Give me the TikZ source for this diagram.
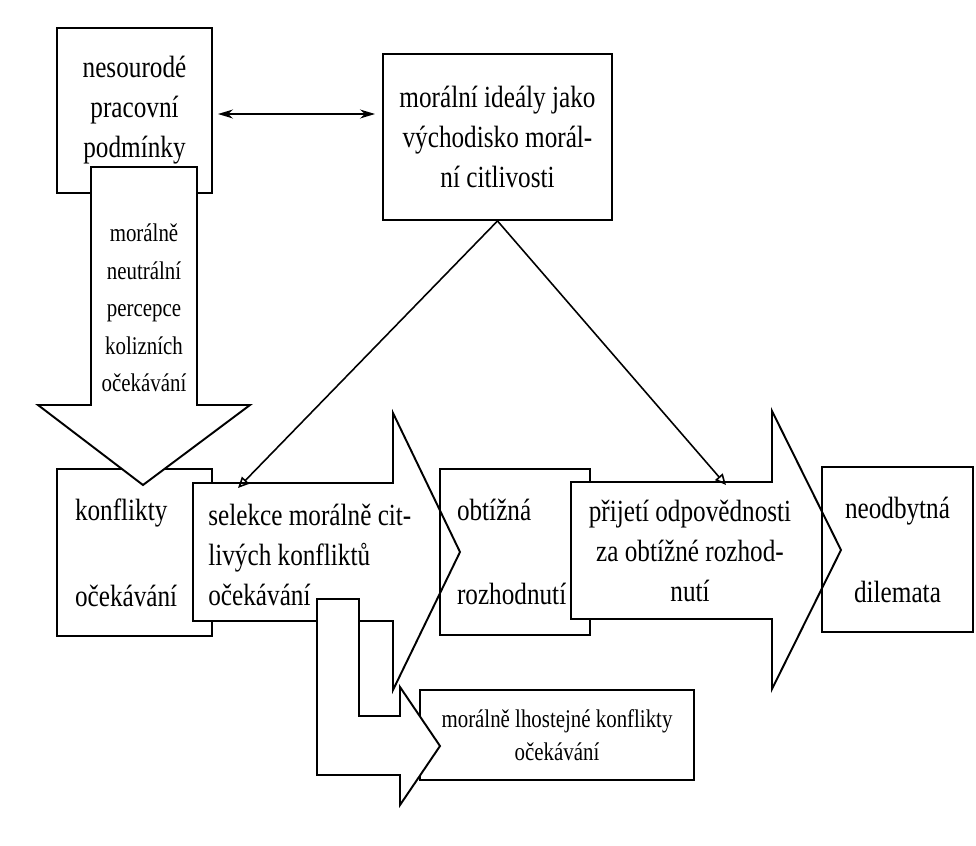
\documentclass[tikz,border=0pt]{standalone}
\usepackage{fontspec}
\setmainfont{Liberation Serif}[FakeStretch=0.82]
\usetikzlibrary{arrows.meta}
\begin{document}
\begin{tikzpicture}[x=0.02cm, y=-0.02cm,
  box/.style={draw, line width=1.1pt, inner sep=0pt},
  bigarrow/.style={draw, fill=white, line width=1.1pt},
  big/.style={font=\fontsize{17.5}{22.8}\selectfont},
  small/.style={font=\fontsize{14.5}{21.3}\selectfont},
  link/.style={line width=0.9pt, -{Triangle[open, length=0.22cm, width=0.2cm]}}]
\useasboundingbox (0,0) rectangle (976,845);
\node[box, big, align=center, minimum width=3.1cm, minimum height=3.3cm] (podminky) at (134.5,110.5) {nesourodé\\pracovní\\podmínky};
\node[box, big, align=center, minimum width=4.58cm, minimum height=3.32cm] (idealy) at (497.5,137) {morální ideály jako\\východisko morál-\\ní citlivosti};
\node[box, big, minimum height=3.34cm, inner xsep=0.36cm, text width=2.38cm, align=left] (konflikty) at (134.5,552.5) {konflikty\\[26pt]očekávání};
\draw[bigarrow] (91,167) -- (197,167) -- (197,405) -- (250,405) -- (143,485) -- (38,405) -- (91,405) -- cycle;
\node[small, align=center, inner sep=0pt] (percepce) at (144,308) {morálně\\neutrální\\percepce\\kolizních\\očekávání};
\draw[bigarrow] (193,483) -- (393,483) -- (393,413) -- (460,552) -- (393,690) -- (393,621) -- (193,621) -- cycle;
\node[big, align=left, anchor=west, inner sep=0pt] (selekce) at (208,555) {selekce morálně cit-\\livých konfliktů\\očekávání};
\node[box, big, minimum height=3.32cm, inner xsep=0.34cm, text width=2.32cm, align=left] (obtizna) at (515,552) {obtížná\\[25pt]rozhodnutí};
\draw[bigarrow] (571,482) -- (772,482) -- (772,411) -- (841,550) -- (772,689) -- (772,619) -- (571,619) -- cycle;
\node[big, align=center, inner sep=0pt] (prijeti) at (690,551) {přijetí odpovědnosti\\za obtížné rozhod-\\nutí};
\node[box, big, align=center, minimum width=3.02cm, minimum height=3.3cm] (dilemata) at (897.5,549.5) {neodbytná\\[25pt]dilemata};
\node[box, align=center, minimum width=5.48cm, minimum height=1.8cm, font=\fontsize{14.5}{18.8}\selectfont] (lhostejne) at (557,735) {morálně lhostejné konflikty\\očekávání};
\draw[bigarrow] (317,599) -- (359,599) -- (359,716) -- (400,716) -- (400,687) -- (440,746) -- (400,805) -- (400,775) -- (317,775) -- cycle;
\coordinate (dl) at (218,114);
\coordinate (dr) at (375,114);
\coordinate (selTop) at (238,488);
\coordinate (prijTop) at (726,485);
\draw[line width=0.8pt, {Stealth[length=0.3cm, width=0.18cm]}-{Stealth[length=0.3cm, width=0.18cm]}] (dl) -- (dr);
\draw[link] (idealy.south) -- (selTop);
\draw[link] (idealy.south) -- (prijTop);
\end{tikzpicture}
\end{document}
